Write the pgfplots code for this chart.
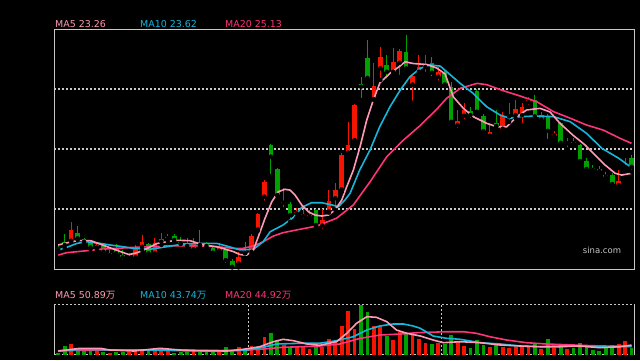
\documentclass[border=0pt]{standalone}
\usepackage{pgfplots}
\pgfplotsset{compat=1.18}
\usepackage{pgfplotstable}
\usepackage{fontspec}
\setmainfont{DejaVu Sans}
\newfontfamily\cjk{Noto Sans CJK SC}
\definecolor{maA}{RGB}{255,153,180}
\definecolor{maB}{RGB}{20,182,218}
\definecolor{maC}{RGB}{255,51,119}
\definecolor{up}{RGB}{245,20,0}
\definecolor{dn}{RGB}{0,160,0}
\definecolor{gridc}{RGB}{200,200,200}

\pgfplotstableread{
i o h l c v
2 19.05 20.23 18.98 19.72 56.7
6 18.63 18.88 18.47 18.78 21.2
8 18.15 18.47 18.05 18.26 10.6
11 17.95 18.26 17.84 18.05 15.9
12 18.01 18.78 17.95 18.67 19.6
13 18.67 19.40 18.47 18.98 21.2
15 18.26 19.20 18.05 18.88 33.4
16 18.98 19.51 18.78 19.15 24.9
17 19.20 19.47 18.98 19.30 21.2
21 18.51 19.20 18.36 18.84 21.2
25 18.42 18.92 18.15 18.57 19.6
28 17.63 18.36 17.38 18.05 38.7
30 18.36 19.47 18.26 19.34 46.1
31 19.76 20.80 19.67 20.72 33.4
32 21.80 22.84 21.42 22.73 91.7
35 21.42 22.32 21.01 21.48 51.4
37 20.76 21.07 20.51 20.86 38.7
38 20.59 21.01 20.30 20.72 38.7
39 20.55 20.97 20.30 20.65 30.2
41 20.00 21.01 19.67 20.34 38.7
42 20.86 22.22 20.80 21.55 83.2
43 21.70 22.67 20.97 22.22 68.9
44 22.26 24.55 22.11 24.40 152.1
45 24.55 26.48 24.47 25.03 231.6
46 25.34 27.59 25.30 27.53 134.1
49 27.90 30.13 27.84 28.72 152.1
50 29.82 31.13 29.09 30.53 152.1
52 29.61 31.07 29.51 30.20 77.9
53 30.17 31.01 29.28 30.90 118.2
55 28.81 29.47 27.67 29.31 104.4
56 29.61 30.65 29.51 29.90 83.2
57 29.90 30.65 29.47 30.09 63.6
59 29.30 29.92 28.92 29.61 63.6
62 26.28 27.22 25.97 26.50 72.6
63 26.86 27.65 26.53 27.22 46.1
67 25.61 26.40 25.55 25.86 42.4
69 26.05 27.09 25.86 26.84 42.4
70 26.82 27.63 26.47 26.90 37.1
71 26.90 27.82 26.70 27.26 42.4
72 26.90 27.68 26.28 27.38 38.7
73 27.73 28.03 27.42 27.84 42.4
75 26.62 27.06 26.53 26.93 30.2
77 25.62 25.92 25.40 25.72 37.1
79 25.13 25.45 24.76 25.23 30.2
87 22.53 23.47 22.38 22.80 56.7
88 23.63 24.20 23.47 23.72 74.2
}\redt

\pgfplotstableread{
i o h l c v
0 18.62 18.78 18.34 18.53 10.6
1 18.98 19.47 18.59 18.78 46.1
3 19.51 19.97 19.09 19.20 24.9
4 19.13 19.20 18.88 18.98 21.2
5 18.98 19.05 18.51 18.63 21.2
7 18.78 18.88 18.22 18.36 15.9
9 18.51 18.84 18.15 18.26 14.3
10 18.15 18.47 17.73 18.01 15.9
14 18.84 18.92 18.20 18.26 17.5
18 19.36 19.47 18.98 19.09 10.6
19 18.98 19.30 18.84 18.88 15.9
20 18.88 19.20 18.63 18.72 14.3
22 18.84 19.72 18.75 18.78 15.9
23 18.88 18.98 18.59 18.72 15.9
24 18.57 18.65 18.26 18.30 15.9
26 18.47 18.67 17.53 17.84 38.7
27 17.80 17.88 17.38 17.42 21.2
29 18.40 18.98 18.26 18.28 24.9
33 25.03 25.09 23.09 24.30 112.9
34 23.53 23.57 21.87 21.90 74.2
36 21.34 21.45 20.23 20.65 37.1
40 20.97 21.01 19.92 20.03 38.7
47 28.84 29.28 27.84 28.67 263.4
48 30.45 31.59 29.09 29.22 226.3
51 30.03 30.65 29.05 29.61 100.7
54 30.87 31.90 29.72 29.82 109.7
58 30.13 30.51 29.20 29.55 56.7
60 29.62 29.75 28.75 28.81 56.7
61 28.65 28.98 26.42 26.48 104.4
64 27.15 27.43 26.59 26.90 37.1
65 28.40 28.51 26.90 27.11 77.9
66 26.84 26.97 25.86 25.90 51.4
68 26.40 27.22 26.17 26.22 51.4
74 27.84 28.15 26.65 26.82 56.7
76 26.84 26.97 25.28 25.92 83.2
78 26.38 26.48 25.09 25.17 46.1
80 25.23 25.45 24.97 25.13 37.1
81 25.03 25.09 23.98 24.03 63.6
82 24.03 24.20 23.26 23.53 42.4
83 23.57 23.78 23.36 23.47 24.9
84 23.53 23.72 23.30 23.40 19.6
85 23.15 23.36 22.84 23.05 37.1
86 23.15 23.26 22.38 22.59 51.4
89 24.20 24.40 23.36 23.67 37.1
}\greent

\begin{document}
\begin{tikzpicture}[x=1bp,y=1bp]
\fill[black] (0,0) rectangle (640,360);
\useasboundingbox (0,0) rectangle (640,360);

\begin{axis}[at={(54.3bp,330.7bp)}, anchor=north west, scale only axis,
  width=580bp, height=240bp,
  xmin=-0.62, xmax=89.43, ymin=17.26, ymax=32.26,
  axis line style={draw=gridc, line width=0.9bp},
  xtick=\empty, ytick={21.03,24.78,28.53}, yticklabels={},
  tick style={draw=none}, ymajorgrids,
  grid style={draw=gridc, dash pattern=on 2bp off 2bp, line width=1.2bp}]
% wicks
\addplot[only marks, mark=none, error bars/.cd, y dir=plus, y explicit, error mark=none,
  error bar style={draw=up, line width=1bp}]
  table[x=i, y=l, y error expr=\thisrow{h}-\thisrow{l}] {\redt};
\addplot[only marks, mark=none, error bars/.cd, y dir=plus, y explicit, error mark=none,
  error bar style={draw=dn, line width=1bp}]
  table[x=i, y=l, y error expr=\thisrow{h}-\thisrow{l}] {\greent};
% bodies
\addplot[only marks, mark=none, error bars/.cd, y dir=plus, y explicit, error mark=none,
  error bar style={draw=up, line width=4.6bp}]
  table[x=i, y=o, y error expr=\thisrow{c}-\thisrow{o}] {\redt};
\addplot[only marks, mark=none, error bars/.cd, y dir=plus, y explicit, error mark=none,
  error bar style={draw=dn, line width=4.6bp}]
  table[x=i, y=c, y error expr=\thisrow{o}-\thisrow{c}] {\greent};
% MA20
\addplot[maC, line width=1.6bp, mark=none] coordinates {(0,18.15) (1.3,18.30) (3.9,18.40) (6.5,18.51) (9.1,18.57) (11.6,18.63) (14.2,18.67) (16.8,18.72) (19.4,18.73) (22,18.72) (24.6,18.67) (27.2,18.57) (28.7,18.57) (30.3,18.72) (31.8,18.98) (33.4,19.34) (34.9,19.55) (37.5,19.76) (40.1,19.96) (43.2,20.45) (45.8,21.28) (48.4,22.73) (51,24.30) (53.6,25.34) (56.2,26.25) (58.8,27.28) (60.3,27.95) (62.4,28.57) (65,28.88) (66.5,28.80) (69.1,28.42) (71.7,28.09) (74.3,27.73) (76.9,27.11) (79.5,26.70) (82,26.28) (84.6,25.96) (87.2,25.45) (89,25.13)};
% MA10
\addplot[maB, line width=1.6bp, mark=none] coordinates {(0,18.47) (1.3,18.63) (2.9,18.88) (4.4,18.98) (6.5,18.88) (8,18.78) (10.1,18.67) (11.6,18.57) (14.2,18.51) (16.8,18.67) (19.4,18.84) (22,18.88) (24.6,18.88) (26.1,18.72) (28.2,18.47) (30.3,18.51) (31.8,18.98) (32.9,19.61) (34.9,20.03) (36.5,20.51) (37.8,21.13) (39.3,21.42) (40.9,21.42) (42.5,21.28) (43.5,21.17) (44.5,21.59) (45.3,22.01) (46.8,23.47) (48.4,24.72) (49.9,26.17) (51.5,27.42) (53.1,28.47) (54.6,29.30) (56.2,29.82) (57.7,30.03) (59.3,29.96) (60.3,29.61) (62.4,28.88) (64.4,28.26) (66.5,27.42) (68.6,26.90) (70.1,26.70) (71.7,26.80) (74.3,26.84) (76.9,26.80) (79.5,26.48) (82,25.76) (84.4,24.82) (87,24.20) (89,23.62)};
% MA5
\addplot[maA, line width=1.6bp, mark=none] coordinates {(0,18.78) (1.40,18.92) (2.95,19.05) (5.03,19.05) (6.06,18.90) (7.61,18.67) (9.69,18.36) (10.98,18.18) (12.27,18.30) (13.82,18.57) (15.28,18.87) (16.83,18.98) (18.39,19.07) (20.45,19.05) (22.52,18.78) (24.60,18.67) (27.17,18.37) (28.21,18.18) (29.25,18.15) (30.28,18.46) (31.06,19.30) (32.10,20.45) (33.14,21.48) (34.16,22.11) (35.20,22.26) (35.98,22.21) (36.76,21.90) (37.80,21.28) (38.82,20.86) (39.86,20.65) (40.90,20.59) (41.93,20.65) (42.97,20.97) (44.01,21.59) (44.78,22.42) (45.81,23.46) (46.85,24.92) (47.89,26.59) (48.91,27.84) (49.95,28.93) (51.51,29.51) (53.06,29.97) (53.84,30.23) (55.12,30.12) (57.20,30.06) (58.76,29.84) (60.05,29.47) (61.34,28.03) (62.89,27.32) (64.44,26.80) (66.52,26.38) (68.07,26.17) (69.63,26.17) (71.18,26.80) (72.73,27.22) (74.80,27.32) (76.35,27.09) (77.90,26.38) (79.97,25.62) (81.79,25.03) (83.34,24.40) (84.89,23.78) (86.45,23.26) (87.48,23.15) (89,23.26)};
\end{axis}

\begin{axis}[at={(54.3bp,55.7bp)}, anchor=north west, scale only axis,
  width=580bp, height=50.4bp,
  xmin=-0.62, xmax=89.43, ymin=0, ymax=267.1,
  separate axis lines,
  x axis line style={draw=gridc, dash pattern=on 2bp off 2bp, line width=1.2bp},
  y axis line style={draw=gridc, line width=0.9bp},
  xtick={29.5,59.5}, xticklabels={}, ytick=\empty,
  tick style={draw=none}, xmajorgrids,
  grid style={draw=gridc, dash pattern=on 2bp off 2bp, line width=1.2bp}]
\addplot[ycomb, draw=up, line width=3.8bp, mark=none] table[x=i, y=v] {\redt};
\addplot[ycomb, draw=dn, line width=3.8bp, mark=none] table[x=i, y=v] {\greent};
\addplot[maC, line width=1.6bp, mark=none] coordinates {(0,21.2) (6.5,24.9) (16.8,24.9) (27.2,21.2) (31.3,28.6) (34.9,39.2) (40.6,46.1) (43.7,56.7) (46.9,86.9) (50,104.4) (53.1,109.7) (55.7,116.6) (60.3,121.9) (62.9,121.9) (64.9,113.4) (67,95.4) (69.6,77.9) (72.7,63.6) (75.8,56.7) (80,51.4) (84.1,46.1) (89,44.9)};
\addplot[maB, line width=1.6bp, mark=none] coordinates {(0,19.6) (3.8,28.6) (9,24.9) (14.5,24.9) (19.4,21.2) (24.6,21.2) (29.2,24.9) (31.8,39.2) (33.9,56.7) (37.5,60.4) (40.6,61) (43.2,74.2) (45.8,95.4) (47.9,130.9) (49.9,152.1) (52,162.7) (53.6,162.7) (55.1,152.1) (56.2,139.9) (58.2,99.1) (60.3,86.9) (62.4,81.6) (65.5,63.6) (68.6,56.7) (71.7,46.1) (74.8,42.4) (77.9,46.1) (81,46.1) (84.1,42.4) (87.2,42.4) (89,43.7)};
\addplot[maA, line width=1.6bp, mark=none] coordinates {(0,19.6) (3.4,33.9) (6.5,33.9) (8,24.9) (11.7,19.6) (15.8,33.9) (18.9,24.9) (22,21.2) (26.2,19.6) (28.7,28.6) (31.3,42.4) (33.4,68.9) (34.9,81.6) (36.5,74.2) (38.6,56.7) (40.6,49.8) (43.2,68.9) (44.8,113.4) (46.3,166.4) (47.9,201.4) (49.4,198.2) (51,174.9) (52.5,130.9) (54.1,113.4) (56.2,99.1) (58.2,77.9) (59.8,63.6) (62.4,68.9) (65.5,63.6) (68.6,51.4) (71.7,46.1) (74.8,42.4) (77.9,42.4) (81,46.1) (84.1,37.1) (87.2,42.4) (89,50.9)};
\end{axis}

\begin{scope}[every node/.style={anchor=west, inner sep=0pt, font=\fontsize{9.5}{10}\selectfont}]
\node[text=maA] at (55,335.8) {MA5 23.26};
\node[text=maB] at (140,335.8) {MA10 23.62};
\node[text=maC] at (225,335.8) {MA20 25.13};
\node[text=maA] at (55,65) {MA5 50.89{\cjk 万}};
\node[text=maB] at (140,65) {MA10 43.74{\cjk 万}};
\node[text=maC] at (225,65) {MA20 44.92{\cjk 万}};
\end{scope}
\node[text=gridc, anchor=center, inner sep=0pt, font=\fontsize{8.5}{9}\selectfont] at (602,110) {sina.com};
\end{tikzpicture}
\end{document}
